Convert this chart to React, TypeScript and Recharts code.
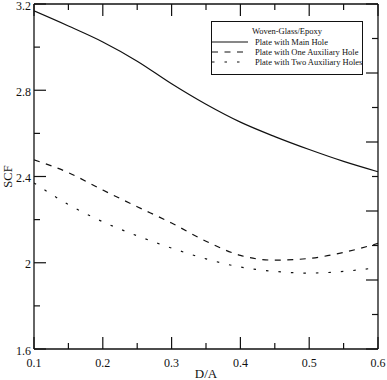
import { LineChart, Line, XAxis, YAxis, Legend } from 'recharts';

// D/A ratio and stress concentration factor for each plate layout
const dOverA = [0.1, 0.15, 0.2, 0.25, 0.3, 0.35, 0.4, 0.45, 0.5, 0.55, 0.6];
const mainHole = [3.168, 3.098, 3.024, 2.935, 2.83, 2.735, 2.652, 2.585, 2.525, 2.47, 2.422];
const oneAuxHole = [2.477, 2.418, 2.337, 2.26, 2.184, 2.1, 2.034, 2.012, 2.02, 2.048, 2.09];
const twoAuxHoles = [2.37, 2.27, 2.19, 2.125, 2.068, 2.018, 1.98, 1.96, 1.952, 1.96, 1.978];

const xTicks = [0.1, 0.15, 0.2, 0.25, 0.3, 0.35, 0.4, 0.45, 0.5, 0.55, 0.6];
const xLabelled = [0.1, 0.2, 0.3, 0.4, 0.5, 0.6];
const yTicks = [1.6, 1.8, 2, 2.2, 2.4, 2.6, 2.8, 3, 3.2];
const yLabelled = [1.6, 2, 2.4, 2.8, 3.2];
const rightTicks = [0, 0.1, 0.2, 0.3, 0.4, 0.5, 0.6, 0.7, 0.8, 0.9, 1];
const rightMajor = [0, 0.2, 0.4, 0.6, 0.8, 1];

const legendTitle = 'Woven-Glass/Epoxy';
const series = [
  { key: 'main', name: 'Plate with Main Hole', dash: undefined },
  { key: 'one', name: 'Plate with One Auxiliary Hole', dash: '6 6.5' },
  { key: 'two', name: 'Plate with Two Auxiliary Holes', dash: '2.5 10' },
];

const data = dOverA.map((d, i) => ({
  d,
  main: mainHole[i],
  one: oneAuxHole[i],
  two: twoAuxHoles[i],
}));

const FONT = '"Liberation Serif", "Times New Roman", serif';
const INK = '#111';

// tick marks point into the plot on all four sides
const BottomTick = ({ x, y, payload }: any) => {
  const major = xLabelled.includes(payload.value);
  return (
    <g>
      <line x1={x} x2={x} y1={y} y2={y - (major ? 12 : 6)} stroke={INK} strokeWidth={1.2} />
      {major && (
        <text x={x} y={y + 17.5} textAnchor="middle" fontSize={12} fontFamily={FONT} fill={INK}>
          {payload.value}
        </text>
      )}
    </g>
  );
};

const TopTick = ({ x, y, payload }: any) => {
  const major = xLabelled.includes(payload.value);
  return <line x1={x} x2={x} y1={y} y2={y + (major ? 12 : 6)} stroke={INK} strokeWidth={1.2} />;
};

const LeftTick = ({ x, y, payload }: any) => {
  const major = yLabelled.includes(payload.value);
  return (
    <g>
      <line x1={x} x2={x + (major ? 12 : 6)} y1={y} y2={y} stroke={INK} strokeWidth={1.2} />
      {major && (
        <text x={x - 3} y={y + 5.5} textAnchor="end" fontSize={12} fontFamily={FONT} fill={INK}>
          {payload.value}
        </text>
      )}
    </g>
  );
};

const RightTick = ({ x, y, payload }: any) => {
  const major = rightMajor.includes(payload.value);
  return <line x1={x} x2={x - (major ? 12 : 6)} y1={y} y2={y} stroke={INK} strokeWidth={1.2} />;
};

const XTitle = ({ viewBox }: any) => (
  <text
    x={viewBox.x + viewBox.width / 2}
    y={viewBox.y + 29}
    textAnchor="middle"
    fontSize={13}
    fontFamily={FONT}
    fill={INK}
  >
    D/A
  </text>
);

const YTitle = ({ viewBox }: any) => {
  const cx = viewBox.x + 12;
  const cy = viewBox.y + viewBox.height / 2;
  return (
    <text
      x={cx}
      y={cy}
      transform={`rotate(-90 ${cx} ${cy})`}
      textAnchor="middle"
      fontSize={12.5}
      fontFamily={FONT}
      fill={INK}
    >
      SCF
    </text>
  );
};

const LegendBox = () => (
  <div
    style={{
      width: 152,
      height: 54,
      boxSizing: 'border-box',
      border: `1px solid ${INK}`,
      background: '#fff',
      fontFamily: FONT,
      fontSize: 8.5,
      color: INK,
      paddingTop: 4,
    }}
  >
    <div style={{ textAlign: 'center', lineHeight: '11px', marginBottom: 0 }}>{legendTitle}</div>
    {series.map((s) => (
      <div key={s.key} style={{ display: 'flex', alignItems: 'center', height: 10 }}>
        <svg width={36} height={10} style={{ marginRight: 7, flex: 'none' }}>
          <line x1={0} x2={36} y1={5} y2={5} stroke={INK} strokeWidth={1.2} strokeDasharray={s.dash} />
        </svg>
        <span style={{ whiteSpace: 'nowrap', lineHeight: '10px' }}>{s.name}</span>
      </div>
    ))}
  </div>
);

export default function App() {
  return (
    <div style={{ position: 'absolute', left: 0, top: 0, background: '#fff' }}>
      <LineChart width={387} height={380} data={data} margin={{ top: 0, right: 0, bottom: 0, left: 0 }}>
        <XAxis
          xAxisId="bottom"
          dataKey="d"
          type="number"
          domain={[0.1, 0.6]}
          ticks={xTicks}
          interval={0}
          height={31}
          tickSize={0}
          tickMargin={0}
          tick={BottomTick}
          axisLine={{ stroke: INK, strokeWidth: 1.3 }}
          allowDataOverflow
          label={{ content: XTitle }}
        />
        <XAxis
          xAxisId="top"
          orientation="top"
          dataKey="d"
          type="number"
          domain={[0.1, 0.6]}
          ticks={xTicks}
          interval={0}
          height={4}
          tickSize={0}
          tickMargin={0}
          tick={TopTick}
          axisLine={{ stroke: INK, strokeWidth: 1.3 }}
          allowDataOverflow
        />
        <YAxis
          yAxisId="left"
          type="number"
          domain={[1.6, 3.2]}
          ticks={yTicks}
          interval={0}
          width={34}
          tickSize={0}
          tickMargin={0}
          tick={LeftTick}
          axisLine={{ stroke: INK, strokeWidth: 1.3 }}
          allowDataOverflow
          label={{ content: YTitle }}
        />
        <YAxis
          yAxisId="right"
          orientation="right"
          type="number"
          domain={[0, 1]}
          ticks={rightTicks}
          interval={0}
          width={9}
          tickSize={0}
          tickMargin={0}
          tick={RightTick}
          axisLine={{ stroke: INK, strokeWidth: 1.3 }}
          allowDataOverflow
        />
        <Legend
          layout="vertical"
          align="center"
          verticalAlign="middle"
          content={LegendBox}
          wrapperStyle={{ left: 211, top: 21, width: 152 }}
        />
        {series.map((s) => (
          <Line
            key={s.key}
            xAxisId="bottom"
            yAxisId="left"
            type="monotone"
            dataKey={s.key}
            name={s.name}
            stroke={INK}
            strokeWidth={1.2}
            strokeDasharray={s.dash}
            dot={false}
            activeDot={false}
            isAnimationActive={false}
          />
        ))}
      </LineChart>
    </div>
  );
}
